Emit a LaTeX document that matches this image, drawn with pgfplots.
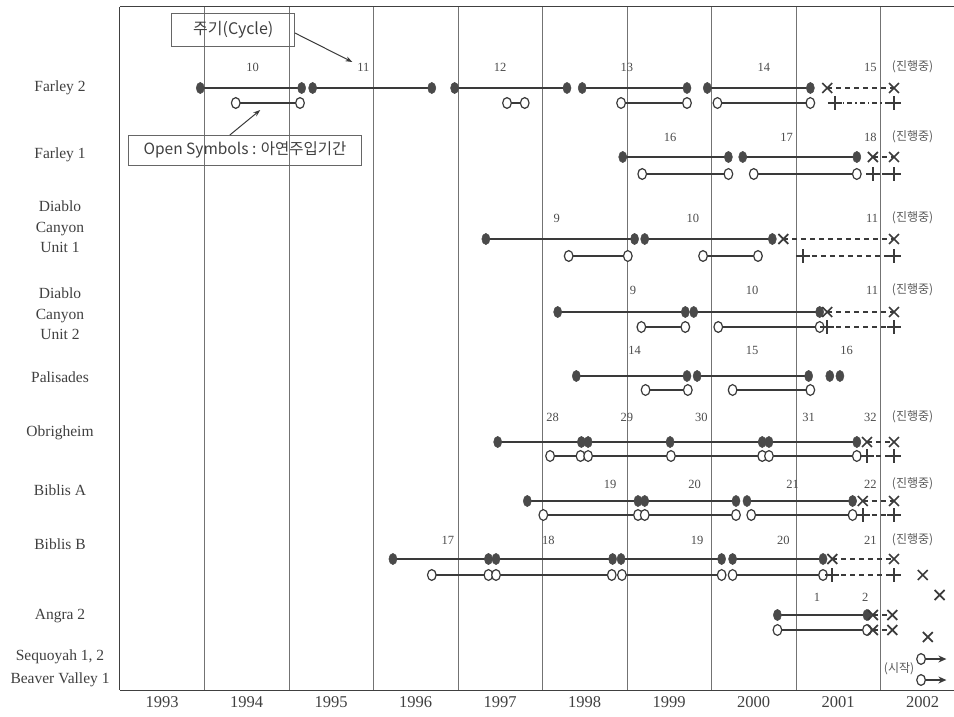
\documentclass[border=0pt]{standalone}
\usepackage{fontspec}
\setmainfont{Liberation Serif}
\newfontfamily\kr{Noto Sans CJK KR}
\usepackage{pgfplots}
\pgfplotsset{compat=1.18}
\usetikzlibrary{arrows.meta}
\definecolor{ink}{HTML}{3A3A3A}
\definecolor{dot}{HTML}{4A4A4A}
\pgfplotsset{
  fseg/.style={ink, line width=2.8pt, mark=*, mark size=5.6pt,
    mark options={solid, xscale=0.72, fill=dot, draw=dot, line width=0.5pt}},
  oseg/.style={ink, line width=1.8pt, mark=*, mark size=5.4pt,
    mark options={solid, xscale=0.8, fill=white, draw=ink, line width=1.2pt}},
  xseg/.style={ink, line width=1.4pt, dash pattern=on 5pt off 4pt, mark=x, mark size=7pt,
    mark options={solid, line width=1.7pt}},
  pseg/.style={ink, line width=1.4pt, dash pattern=on 5pt off 4pt, mark=+, mark size=7pt,
    mark options={solid, line width=1.7pt}},
}
\begin{document}
\begin{tikzpicture}
\begin{axis}[
  scale only axis, width=834pt, height=683pt,
  xmin=1993, xmax=2002.87, ymin=7, ymax=690, y dir=reverse,
  axis x line*=box, axis y line*=left,
  axis line style={black!75, line width=1pt},
  unbounded coords=jump, clip=false,
  xtick={1993.5,1994.5,1995.5,1996.5,1997.5,1998.5,1999.5,2000.5,2001.5,2002.5},
  xticklabels={1993,1994,1995,1996,1997,1998,1999,2000,2001,2002},
  minor xtick={1994,1995,1996,1997,1998,1999,2000,2001,2002},
  xminorgrids, minor grid style={black!55, line width=0.7pt},
  major tick length=0pt, minor tick length=0pt,
  xticklabel style={font=\fontsize{16.5}{18}\selectfont, text=black!75, yshift=-3pt},
  ytick={88,155,227,314,377,433,490,544,616,657,680},
  yticklabels={Farley 2, Farley 1, {Diablo\\Canyon\\Unit 1}, {Diablo\\Canyon\\Unit 2},
    Palisades, Obrigheim, Biblis A, Biblis B, Angra 2, {Sequoyah 1, 2}, Beaver Valley 1},
  yticklabel style={font=\fontsize{15.5}{20.5}\selectfont, text=black!75, align=center,
    anchor=center, xshift=-60pt},
]
% ---- Farley 2 ----
\addplot[fseg] coordinates {(1993.95,88) (1995.15,88) (nan,nan) (1995.28,88) (1996.69,88) (nan,nan)
  (1996.96,88) (1998.29,88) (nan,nan) (1998.47,88) (1999.71,88) (nan,nan) (1999.95,88) (2001.17,88)};
\addplot[xseg] coordinates {(2001.37,88) (2002.16,88)};
\addplot[oseg] coordinates {(1994.37,103) (1995.13,103) (nan,nan) (1997.58,103) (1997.79,103) (nan,nan)
  (1998.93,103) (1999.71,103) (nan,nan) (2000.07,103) (2001.17,103)};
\addplot[pseg, dash pattern=on 5pt off 3pt on 1.5pt off 3pt] coordinates {(2001.46,103) (2002.16,103)};
% ---- Farley 1 ----
\addplot[fseg] coordinates {(1998.95,157) (2000.20,157) (nan,nan) (2000.37,157) (2001.72,157)};
\addplot[xseg] coordinates {(2001.91,157) (2002.16,157)};
\addplot[oseg] coordinates {(1999.18,174) (2000.20,174) (nan,nan) (2000.50,174) (2001.72,174)};
\addplot[pseg] coordinates {(2001.91,174) (2002.16,174)};
% ---- Diablo Canyon Unit 1 ----
\addplot[fseg] coordinates {(1997.33,239) (1999.09,239) (nan,nan) (1999.21,239) (2000.72,239)};
\addplot[xseg] coordinates {(2000.85,239) (2002.16,239)};
\addplot[oseg] coordinates {(1998.31,256) (1999.01,256) (nan,nan) (1999.90,256) (2000.55,256)};
\addplot[pseg] coordinates {(2001.08,256) (2002.16,256)};
% ---- Diablo Canyon Unit 2 ----
\addplot[fseg] coordinates {(1998.18,312) (1999.69,312) (nan,nan) (1999.79,312) (2001.28,312)};
\addplot[xseg] coordinates {(2001.37,312) (2002.16,312)};
\addplot[oseg] coordinates {(1999.17,327) (1999.69,327) (nan,nan) (2000.08,327) (2001.28,327)};
\addplot[pseg] coordinates {(2001.37,327) (2002.16,327)};
% ---- Palisades ----
\addplot[fseg] coordinates {(1998.40,376) (1999.71,376) (nan,nan) (1999.83,376) (2001.15,376)};
\addplot[fseg, only marks] coordinates {(2001.40,376) (2001.52,376)};
\addplot[oseg] coordinates {(1999.22,390) (1999.72,390) (nan,nan) (2000.25,390) (2001.17,390)};
% ---- Obrigheim ----
\addplot[fseg] coordinates {(1997.47,442) (1998.46,442) (nan,nan) (1998.54,442) (1999.51,442) (2000.60,442)
  (nan,nan) (2000.68,442) (2001.72,442)};
\addplot[xseg] coordinates {(2001.84,442) (2002.16,442)};
\addplot[oseg] coordinates {(1998.09,456) (1998.45,456) (nan,nan) (1998.54,456) (1999.52,456) (2000.60,456)
  (nan,nan) (2000.68,456) (2001.72,456)};
\addplot[pseg] coordinates {(2001.84,456) (2002.16,456)};
% ---- Biblis A ----
\addplot[fseg] coordinates {(1997.82,501) (1999.13,501) (nan,nan) (1999.21,501) (2000.29,501)
  (nan,nan) (2000.42,501) (2001.67,501)};
\addplot[xseg] coordinates {(2001.79,501) (2002.16,501)};
\addplot[oseg] coordinates {(1998.01,515) (1999.13,515) (nan,nan) (1999.21,515) (2000.29,515)
  (nan,nan) (2000.47,515) (2001.67,515)};
\addplot[pseg] coordinates {(2001.79,515) (2002.16,515)};
% ---- Biblis B ----
\addplot[fseg] coordinates {(1996.23,559) (1997.36,559) (nan,nan) (1997.45,559) (1998.83,559)
  (nan,nan) (1998.93,559) (2000.12,559) (nan,nan) (2000.25,559) (2001.32,559)};
\addplot[xseg] coordinates {(2001.43,559) (2002.16,559)};
\addplot[oseg] coordinates {(1996.69,575) (1997.36,575) (nan,nan) (1997.45,575) (1998.82,575)
  (nan,nan) (1998.94,575) (2000.12,575) (nan,nan) (2000.25,575) (2001.32,575)};
\addplot[pseg] coordinates {(2001.43,575) (2002.16,575)};
% ---- Angra 2 ----
\addplot[fseg] coordinates {(2000.78,615) (2001.84,615)};
\addplot[xseg] coordinates {(2001.91,615) (2002.14,615)};
\addplot[oseg] coordinates {(2000.78,630) (2001.84,630)};
\addplot[xseg] coordinates {(2001.91,630) (2002.14,630)};
% ---- stray crosses ----
\addplot[xseg, only marks] coordinates {(2002.50,575) (2002.70,595) (2002.56,637)};
% ---- Sequoyah / Beaver Valley ----
\addplot[oseg, line width=1.4pt, -{Stealth[length=8pt,width=7pt]}, mark indices={1}] coordinates {(2002.48,659) (2002.78,659)};
\addplot[oseg, line width=1.4pt, -{Stealth[length=8pt,width=7pt]}, mark indices={1}] coordinates {(2002.48,680) (2002.78,680)};
% ---- cycle numbers ----
\begin{scope}[every node/.style={font=\fontsize{12.5}{14}\selectfont, text=black!70}]
\node at (axis cs:1994.57,67) {10};
\node at (axis cs:1995.88,67) {11};
\node at (axis cs:1997.50,67) {12};
\node at (axis cs:1999.00,67) {13};
\node at (axis cs:2000.62,67) {14};
\node at (axis cs:2001.88,67) {15};
\node at (axis cs:1999.51,137) {16};
\node at (axis cs:2000.89,137) {17};
\node at (axis cs:2001.88,137) {18};
\node at (axis cs:1998.17,218) {9};
\node at (axis cs:1999.78,218) {10};
\node at (axis cs:2001.90,218) {11};
\node at (axis cs:1999.07,290) {9};
\node at (axis cs:2000.48,290) {10};
\node at (axis cs:2001.90,290) {11};
\node at (axis cs:1999.09,350) {14};
\node at (axis cs:2000.48,350) {15};
\node at (axis cs:2001.60,350) {16};
\node at (axis cs:1998.12,417) {28};
\node at (axis cs:1999.00,417) {29};
\node at (axis cs:1999.88,417) {30};
\node at (axis cs:2001.15,417) {31};
\node at (axis cs:2001.88,417) {32};
\node at (axis cs:1998.80,484) {19};
\node at (axis cs:1999.80,484) {20};
\node at (axis cs:2000.96,484) {21};
\node at (axis cs:2001.88,484) {22};
\node at (axis cs:1996.88,540) {17};
\node at (axis cs:1998.07,540) {18};
\node at (axis cs:1999.83,540) {19};
\node at (axis cs:2000.85,540) {20};
\node at (axis cs:2001.88,540) {21};
\node at (axis cs:2001.25,597) {1};
\node at (axis cs:2001.82,597) {2};
\end{scope}
\begin{scope}[every node/.style={font=\kr\fontsize{12}{13}\selectfont, text=black!65}]
\node at (axis cs:2002.38,67) {(진행중)};
\node at (axis cs:2002.38,137) {(진행중)};
\node at (axis cs:2002.38,218) {(진행중)};
\node at (axis cs:2002.38,290) {(진행중)};
\node at (axis cs:2002.38,417) {(진행중)};
\node at (axis cs:2002.38,484) {(진행중)};
\node at (axis cs:2002.38,540) {(진행중)};
\node at (axis cs:2002.22,669) {(시작)};
\end{scope}
% ---- annotation boxes ----
\node[draw=black!60, line width=1pt, minimum width=123pt, minimum height=33pt, inner sep=2pt,
  font=\kr\fontsize{16}{18}\selectfont, text=black!75] at (axis cs:1994.34,30) {주기(Cycle)};
\draw[ink, line width=1pt, -{Stealth[length=7pt,width=5pt]}] (axis cs:1995.07,33) -- (axis cs:1995.75,62);
\node[draw=black!60, line width=1pt, minimum width=233pt, minimum height=30pt, inner sep=2pt,
  font=\kr\fontsize{15.5}{17}\selectfont, text=black!75] at (axis cs:1994.48,150) {Open Symbols : 아연주입기간};
\draw[ink, line width=1pt, -{Stealth[length=7pt,width=5pt]}] (axis cs:1994.30,135) -- (axis cs:1994.66,110);
\end{axis}
\pgfresetboundingbox
\path[use as bounding box] (-120pt,-27pt) rectangle (834pt,690pt);
\end{tikzpicture}
\end{document}
